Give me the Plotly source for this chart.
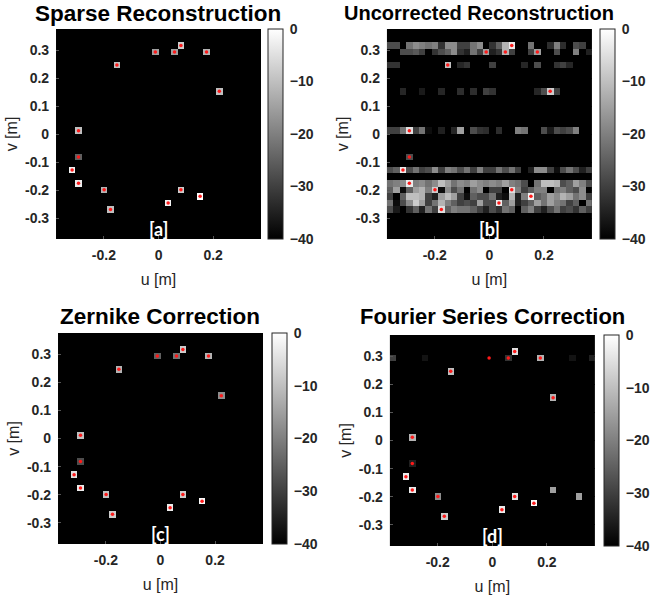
import numpy as np
import plotly.graph_objects as go

# ---------------- data ----------------
N_CELLS = 32
U_MIN, U_MAX = -0.375, 0.375
CELL = (U_MAX - U_MIN) / N_CELLS
cell_centers = [U_MIN + CELL * (i + 0.5) for i in range(N_CELLS)]

# true source positions (m)
src_u = [-0.0117, 0.0586, 0.0820, 0.1758, -0.1523, 0.2227, -0.2930, -0.2930,
         -0.3164, -0.2930, -0.1992, -0.1758, 0.0352, 0.0820, 0.1523]
src_v = [0.2930, 0.2930, 0.3164, 0.2930, 0.2461, 0.1523, 0.0117, -0.0820,
         -0.1289, -0.1758, -0.1992, -0.2695, -0.2461, -0.1992, -0.2227]

# reconstructed source levels (dB) per panel
sparse_db = [-15, -15, -8, -12, -10, -10, -10, -25, -2, -3, -12, -10, -2, -8, 0]
uncorr_db = [-15, -12, -3, -15, -10, -8, -5, -28, -3, -3, -8, -5, -3, -5, -2]
zernike_db = [-25, -22, -8, -12, -12, -18, -10, -28, -5, -3, -10, -8, -3, -8, -1]
fourier_db = [-60, -32, -5, -12, -10, -12, -12, -35, -3, -3, -18, -8, -3, -5, -1]

# uncorrected reconstruction: smeared rows (v of row, 32 values in dB)
unc_row_v = [0.3164, 0.2930, 0.2461, 0.1523, 0.0117, -0.1289,
             -0.1758, -0.1992, -0.2227, -0.2461, -0.2695]
unc_r0316 = [-28, -28, -40, -22, -18, -20, -22, -20, -32, -18, -18, -30, -30, -22, -18, -40,
             -32, -25, -12, -3, -40, -40, -22, -40, -40, -33, -20, -33, -40, -28, -30, -40]
unc_r0293 = [-40, -40, -28, -28, -26, -30, -40, -32, -28, -25, -18, -32, -35, -22, -30, -15,
             -35, -32, -12, -30, -40, -40, -30, -15, -40, -40, -28, -40, -40, -20, -40, -35]
unc_r0246 = [-32, -32, -40, -40, -40, -40, -40, -40, -40, -10, -40, -34, -32, -40, -40, -40,
             -30, -40, -40, -40, -40, -34, -40, -28, -40, -40, -32, -30, -34, -40, -40, -40]
unc_r0152 = [-40, -40, -34, -40, -40, -36, -40, -40, -34, -40, -40, -33, -40, -33, -40, -30,
             -32, -40, -40, -40, -40, -40, -40, -34, -28, -8, -30, -40, -40, -40, -40, -40]
unc_r0012 = [-30, -30, -22, -5, -30, -22, -38, -40, -35, -40, -34, -15, -40, -28, -32, -33,
             -40, -33, -40, -40, -20, -22, -40, -40, -28, -36, -28, -30, -28, -20, -40, -40]
unc_rm129 = [-28, -25, -3, -28, -22, -30, -28, -18, -30, -20, -22, -28, -22, -30, -20, -30,
             -30, -22, -28, -22, -30, -40, -35, -18, -18, -30, -38, -28, -22, -28, -35, -30]
unc_rm176 = [-22, -20, -18, -3, -20, -18, -22, -18, -10, -15, -22, -18, -20, -15, -18, -20,
             -18, -20, -15, -20, -22, -28, -40, -22, -10, -10, -12, -28, -25, -15, -20, -28]
unc_rm199 = [-25, -15, -38, -25, -15, -12, -20, -8, -38, -18, -28, -22, -40, -22, -18, -40,
             -30, -30, -40, -5, -20, -30, -25, -20, -20, -40, -22, -20, -25, -28, -18, -40]
unc_rm223 = [-30, -40, -25, -10, -10, -12, -30, -35, -15, -10, -15, -30, -38, -25, -28, -28,
             -22, -35, -38, -12, -35, -20, -2, -25, -22, -15, -18, -12, -15, -22, -18, -30]
unc_rm246 = [-22, -38, -28, -18, -8, -15, -30, -22, -12, -20, -25, -30, -28, -30, -15, -28,
             -28, -3, -25, -15, -35, -30, -25, -15, -22, -15, -20, -22, -30, -25, -40, -22]
unc_rm270 = [-28, -36, -40, -32, -25, -35, -22, -30, -5, -25, -20, -22, -22, -25, -30, -35,
             -28, -32, -22, -25, -40, -25, -20, -30, -35, -28, -22, -30, -28, -32, -25, -30]
unc_rows = [unc_r0316, unc_r0293, unc_r0246, unc_r0152, unc_r0012, unc_rm129,
            unc_rm176, unc_rm199, unc_rm223, unc_rm246, unc_rm270]

# Fourier correction: spurious cells
four_extra_u = [-0.3633, -0.2461, 0.2930, 0.3633, 0.2227, 0.3164]
four_extra_v = [0.2930, 0.2930, 0.2930, 0.2930, -0.1758, -0.1992]
four_extra_db = [-30, -37, -37, -35, -15, -15]

titles = ["Sparse Reconstruction", "Uncorrected Reconstruction",
          "Zernike Correction", "Fourier Series Correction"]
panel_tags = ["[a]", "[b]", "[c]", "[d]"]
cbar_ticks = [0, -10, -20, -30, -40]
axis_ticks = [-0.3, -0.2, -0.1, 0, 0.1, 0.2, 0.3]

# ---------------- build grids ----------------
def idx(val):
    return int(round((val - U_MIN) / CELL - 0.5))

def make_grid(levels, rows_v=None, rows=None, extra=None):
    z = np.full((N_CELLS, N_CELLS), -40.0)
    if rows_v is not None:
        for vv, row in zip(rows_v, rows):
            z[idx(vv), :] = row
    if extra is not None:
        for uu, vv, lv in zip(*extra):
            z[idx(vv), idx(uu)] = lv
    for uu, vv, lv in zip(src_u, src_v, levels):
        z[idx(vv), idx(uu)] = lv
    return z

grids = [
    make_grid(sparse_db),
    make_grid(uncorr_db, unc_row_v, unc_rows),
    make_grid(zernike_db),
    make_grid(fourier_db, extra=(four_extra_u, four_extra_v, four_extra_db)),
]

# ---------------- layout geometry (pixels) ----------------
W, H = 650, 597
areas = [(57, 265, 29, 239), (393, 601, 29, 239), (59, 267, 333, 544), (396, 604, 335, 546)]
cbar_left = [272, 609, 276, 613]
title_y = [14, 13, 316, 316]
title_x = [160, 486, 162, 500]
title_size = [22.5, 20, 22.5, 22]

fig = go.Figure()
TICKFONT = dict(family="Liberation Sans", size=14, color="#262626", weight="bold")
LABELFONT = dict(family="Liberation Sans", size=16, color="#262626")

for k in range(4):
    l, r, t, b = areas[k]
    xa = "x" if k == 0 else f"x{k+1}"
    ya = "y" if k == 0 else f"y{k+1}"
    cb = dict(
        x=cbar_left[k] / W, xanchor="left", xpad=0, ypad=0,
        y=1 - (t + b) / 2 / H, yanchor="middle",
        len=(b - t) / H, lenmode="fraction", thickness=15,
        outlinecolor="#262626", outlinewidth=1,
        tickvals=cbar_ticks, ticks="outside", ticklen=4,
        tickcolor="rgba(0,0,0,0)", tickfont=TICKFONT,
    )
    fig.add_trace(go.Heatmap(
        x=cell_centers, y=cell_centers, z=grids[k],
        zmin=-40, zmax=0, colorscale=[[0, "black"], [1, "white"]],
        colorbar=cb, xaxis=xa, yaxis=ya, hoverinfo="skip",
    ))
    fig.add_trace(go.Scatter(
        x=src_u, y=src_v, mode="markers",
        marker=dict(size=3.5, color="#ff1a1a", line=dict(width=0)),
        xaxis=xa, yaxis=ya, showlegend=False, hoverinfo="skip",
    ))
    axcommon = dict(
        range=[U_MIN, U_MAX], showgrid=True, gridcolor="#161616",
        gridwidth=1, zeroline=False, ticks="inside", ticklen=3, tickcolor="#555",
        tickfont=TICKFONT, automargin=False, layer="above traces",
        showline=False, ticklabelstandoff=6,
    )
    xdict = dict(axcommon, domain=[l / W, r / W], anchor=ya,
                 tickvals=[-0.2, 0, 0.2], ticktext=["-0.2", "0", "0.2"],
                 title=dict(text="u [m]", font=LABELFONT, standoff=11))
    ydict = dict(axcommon, domain=[1 - b / H, 1 - t / H], anchor=xa,
                 tickvals=axis_ticks, ticktext=[f"{v:g}" for v in axis_ticks],
                 title=dict(text="v [m]", font=LABELFONT, standoff=3))
    fig.update_layout(**{("xaxis" if k == 0 else f"xaxis{k+1}"): xdict,
                         ("yaxis" if k == 0 else f"yaxis{k+1}"): ydict})
    fig.add_annotation(x=title_x[k] / W, y=1 - title_y[k] / H, xref="paper", yref="paper",
                       text=titles[k], showarrow=False, xanchor="center", yanchor="middle",
                       font=dict(family="Liberation Sans", size=title_size[k], color="black",
                                 weight="bold"))
    fig.add_annotation(x=0, y=-0.341, xref=xa, yref=ya, text=panel_tags[k], showarrow=False,
                       xanchor="center", yanchor="middle",
                       font=dict(family="Lato", size=18, color="white", weight="bold"))

fig.update_layout(width=W, height=H, margin=dict(l=0, r=0, t=0, b=0),
                  paper_bgcolor="white", plot_bgcolor="black", showlegend=False)
fig.write_html("out.html")
